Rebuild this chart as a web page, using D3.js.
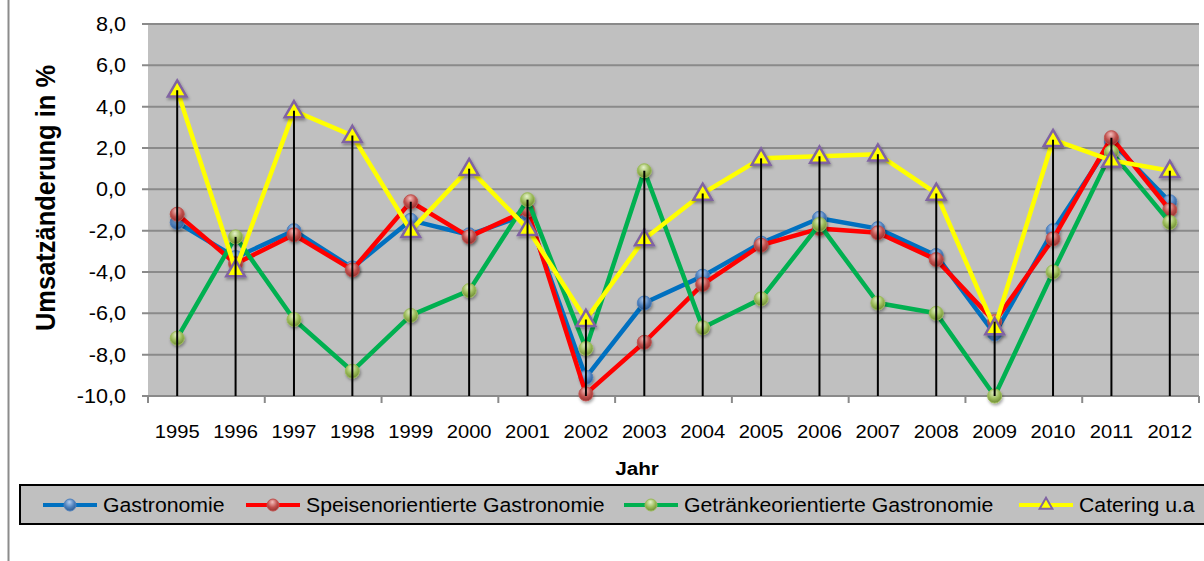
<html>
<head>
  <script type="text/javascript" src="https://d3js.org/d3.v7.min.js"></script>
  <style>
      body { margin: 0; background: #fff; }
      text { font-family: "Liberation Sans", Arial, sans-serif; fill: #000; }
  </style>
</head>
<body>
<div id="chart"></div>
<script>
    // data
    const years = ["1995", "1996", "1997", "1998", "1999", "2000", "2001", "2002", "2003",
        "2004", "2005", "2006", "2007", "2008", "2009", "2010", "2011", "2012"];
    const gastronomie = [-1.6, -3.3, -2.0, -3.8, -1.5, -2.2, -1.2, -9.1, -5.5, -4.2, -2.6, -1.4, -1.9, -3.2, -7.0, -2.0, 2.3, -0.6];
    const speisen = [-1.2, -3.6, -2.2, -3.9, -0.6, -2.3, -1.0, -9.9, -7.4, -4.6, -2.7, -1.9, -2.1, -3.4, -6.4, -2.4, 2.5, -1.0];
    const getraenke = [-7.2, -2.3, -6.3, -8.8, -6.1, -4.9, -0.5, -7.7, 0.9, -6.7, -5.3, -1.7, -5.5, -6.0, -10.0, -4.0, 1.8, -1.6];
    const catering = [4.8, -3.9, 3.8, 2.6, -2.0, 1.0, -1.9, -6.3, -2.4, -0.2, 1.5, 1.6, 1.7, -0.2, -6.7, 2.4, 1.4, 0.9];
    const yTicks = [-10, -8, -6, -4, -2, 0, 2, 4, 6, 8];
    const seriesNames = ["Gastronomie", "Speisenorientierte Gastronomie", "Getränkeorientierte Gastronomie", "Catering u.a"];

    const series = [
        {name: seriesNames[0], values: gastronomie, line: "#0070C0", marker: "ball", c: ["#b5cdee", "#4f81bd", "#2f5b91"]},
        {name: seriesNames[1], values: speisen, line: "#FF0000", marker: "ball", c: ["#f3c0be", "#c0504d", "#963330"]},
        {name: seriesNames[2], values: getraenke, line: "#00B050", marker: "ball", c: ["#e6f2cc", "#9bbb59", "#6f8b36"]},
        {name: seriesNames[3], values: catering, line: "#FFFF00", marker: "tri"}
    ];

    const width = 1204, height = 561;
    const SX = 1.09; // the text in the picture is a bit wider than tall

    const svg = d3.select("#chart").append("svg")
        .attr("width", width)
        .attr("height", height);

    const defs = svg.append("defs");
    series.filter(s => s.c).forEach((s, i) => {
        let gr = defs.append("radialGradient").attr("id", "ball" + i)
            .attr("cx", "45%").attr("cy", "35%").attr("r", "65%")
            .attr("fx", "45%").attr("fy", "25%");
        gr.append("stop").attr("offset", "0%").attr("stop-color", s.c[0]);
        gr.append("stop").attr("offset", "60%").attr("stop-color", s.c[1]);
        gr.append("stop").attr("offset", "100%").attr("stop-color", s.c[2]);
        s.fill = "url(#ball" + i + ")";
    });
    defs.append("filter").attr("id", "shadow")
        .attr("x", "-50%").attr("y", "-50%").attr("width", "200%").attr("height", "200%")
        .append("feDropShadow")
        .attr("dx", 1).attr("dy", 2).attr("stdDeviation", 1.5)
        .attr("flood-color", "#000").attr("flood-opacity", 0.35);

    // stretched text helper
    function label(parent, x, y, str, size, anchor, bold, rot) {
        return parent.append("text")
            .attr("transform", `translate(${x},${y}) scale(${SX},1)` + (rot ? ` rotate(${rot})` : ""))
            .attr("text-anchor", anchor)
            .attr("font-size", size)
            .attr("font-weight", bold ? "bold" : "normal")
            .text(str);
    }

    // chart area border (only the left edge is visible)
    svg.append("line")
        .attr("x1", 8.5).attr("x2", 8.5).attr("y1", 0).attr("y2", height)
        .attr("stroke", "#8c8c8c").attr("stroke-width", 2);

    const plotLeft = 148, plotRight = 1199, plotTop = 24, plotBottom = 396;

    const xScale = d3.scaleBand()
        .domain(years)
        .range([plotLeft, plotRight]);
    const yScale = d3.scaleLinear()
        .domain([-10, 8])
        .range([plotBottom, plotTop]);

    // plot area
    svg.append("rect")
        .attr("x", plotLeft).attr("y", plotTop)
        .attr("width", plotRight - plotLeft).attr("height", plotBottom - plotTop)
        .attr("fill", "#c0c0c0");

    // gridlines + y ticks
    const grid = svg.append("g");
    grid.selectAll("line")
        .data(yTicks)
        .enter().append("line")
        .attr("x1", plotLeft - 6).attr("x2", plotRight)
        .attr("y1", d => yScale(d)).attr("y2", d => yScale(d))
        .attr("stroke", "#8a8a8a").attr("stroke-width", 2);
    yTicks.forEach(t => {
        let txt = d3.format(".1f")(t).replace(".", ",").replace("\u2212", "-");
        label(svg, 126, yScale(t) + 7, txt, 19.8, "end");
    });

    // x ticks every second category
    const xTickPos = years.filter((d, i) => i % 2 === 0).map(d => xScale(d)).concat([plotRight]);
    svg.append("g").selectAll("line")
        .data(xTickPos)
        .enter().append("line")
        .attr("x1", d => d).attr("x2", d => d)
        .attr("y1", plotBottom).attr("y2", plotBottom + 7)
        .attr("stroke", "#8a8a8a").attr("stroke-width", 2);

    years.forEach(y => {
        label(svg, xScale(y) + xScale.bandwidth() / 2, 438, y, 18.5, "middle");
    });

    // axis titles
    label(svg, 637, 475, "Jahr", 19, "middle", true);
    label(svg, 55, 198, "Umsatzänderung in %", 25.5, "middle", true, -90);

    const cx = d => xScale(d) + xScale.bandwidth() / 2;
    const tri = d3.symbol().type(d3.symbolTriangle).size(150);

    function drawMarker(g, s, x, y, small) {
        if (s.marker === "tri") {
            g.append("path")
                .attr("d", small ? d3.symbol().type(d3.symbolTriangle).size(70)() : tri())
                .attr("transform", `translate(${x},${y + (small ? 0 : 1)})`)
                .attr("fill", "#FFFF00")
                .attr("stroke", "#8064A2")
                .attr("stroke-width", small ? 2 : 2.5)
                .attr("filter", small ? null : "url(#shadow)");
        } else {
            g.append("circle")
                .attr("cx", x).attr("cy", y)
                .attr("r", small ? 6 : 7)
                .attr("fill", s.fill)
                .attr("stroke", s.c[1]).attr("stroke-width", 1)
                .attr("filter", small ? null : "url(#shadow)");
        }
    }

    // series lines and markers
    const line = d3.line()
        .x((d, i) => cx(years[i]))
        .y(d => yScale(d));

    series.forEach(s => {
        const g = svg.append("g");
        g.append("path")
            .attr("d", line(s.values))
            .attr("fill", "none")
            .attr("stroke", s.line)
            .attr("stroke-width", 4.5)
            .attr("stroke-linejoin", "round");
        s.values.forEach((v, i) => drawMarker(g, s, cx(years[i]), yScale(v), false));
    });

    // drop lines from the axis to the highest point of each year
    const maxima = years.map((y, i) => d3.max(series, s => s.values[i]));
    svg.append("g").selectAll("line")
        .data(years)
        .enter().append("line")
        .attr("x1", d => cx(d)).attr("x2", d => cx(d))
        .attr("y1", plotBottom)
        .attr("y2", (d, i) => yScale(maxima[i]))
        .attr("stroke", "#000").attr("stroke-width", 2);

    // legend
    const legend = svg.append("g");
    legend.append("rect")
        .attr("x", 20).attr("y", 485)
        .attr("width", 1200).attr("height", 39)
        .attr("fill", "#c0c0c0")
        .attr("stroke", "#000").attr("stroke-width", 2);
    const legendX = [103, 306, 684, 1079];
    series.forEach((s, i) => {
        let tx = legendX[i], ly = 505;
        legend.append("line")
            .attr("x1", tx - 60).attr("x2", tx - 6)
            .attr("y1", ly).attr("y2", ly)
            .attr("stroke", s.line).attr("stroke-width", 4);
        drawMarker(legend, s, tx - 33, ly, true);
        label(legend, tx, ly + 7, s.name, 19.5, "start");
    });
</script>
</body>
</html>
